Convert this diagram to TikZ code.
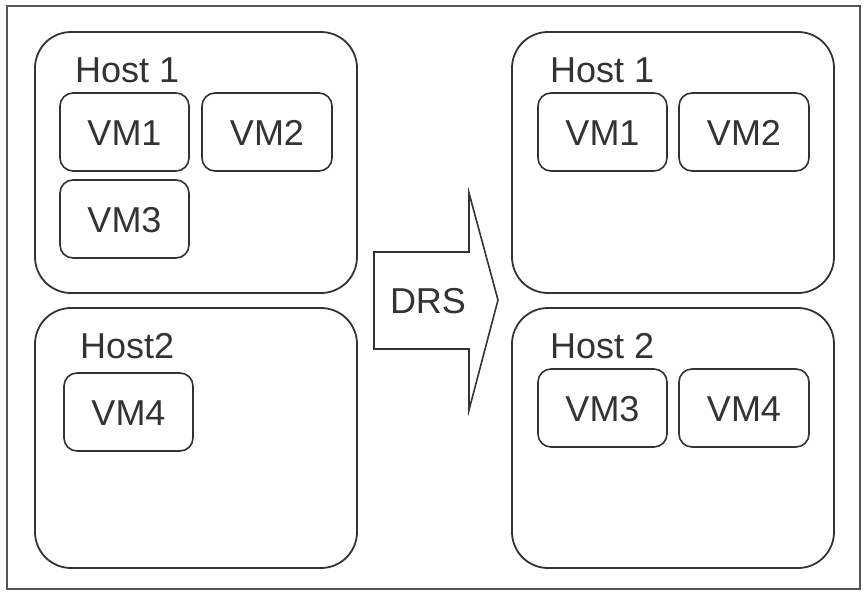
\documentclass[tikz,border=0pt]{standalone}
\usepackage{fontspec}
\setmainfont{Liberation Sans}
\definecolor{ink}{HTML}{333333}
\definecolor{framec}{HTML}{555555}
\tikzset{
  hostbox/.style={draw=ink, line width=1.8pt, rounded corners=36pt, inner sep=0pt},
  vmbox/.style={draw=ink, line width=1.6pt, rounded corners=13pt, inner sep=0pt,
     text=ink, font=\fontsize{36}{40}\selectfont, text height=26pt, text depth=0pt},
  title/.style={anchor=base west, inner sep=0pt, text=ink, font=\fontsize{36}{40}\selectfont},
}
\begin{document}
\begin{tikzpicture}[x=1pt,y=-1pt]
\useasboundingbox (0,0) rectangle (867,592);
\fill[white] (0,0) rectangle (867,592);
\draw[framec, line width=1.5pt] (7,6) rectangle (860,589);
% left hosts
\node[hostbox, minimum width=322pt, minimum height=261pt] (lh1) at (196,162.5) {};
\node[hostbox, minimum width=322pt, minimum height=260pt] (lh2) at (196,438) {};
\node[title] (lh1t) at (75,82) {Host 1};
\node[title] (lh2t) at (80,358) {Host2};
\node[vmbox, minimum width=129pt, minimum height=78pt] (lvm1) at (124.5,132) {VM1};
\node[vmbox, minimum width=130pt, minimum height=78pt] (lvm2) at (267,132) {VM2};
\node[vmbox, minimum width=129pt, minimum height=78pt] (lvm3) at (124.5,219) {VM3};
\node[vmbox, minimum width=129pt, minimum height=78pt] (lvm4) at (128.5,412) {VM4};
% arrow
\draw[ink, line width=1.6pt, line join=miter] (374,252) -- (469,252) -- (469,193) -- (498,300) -- (469,410) -- (469,349) -- (374,349) -- cycle;
\node[inner sep=0pt, text=ink, font=\fontsize{36}{40}\selectfont, text height=26pt, text depth=0pt] (drs) at (428,300) {DRS};
% right hosts
\node[hostbox, minimum width=322pt, minimum height=261pt] (rh1) at (673,162.5) {};
\node[hostbox, minimum width=322pt, minimum height=260pt] (rh2) at (673,438) {};
\node[title] (rh1t) at (550,82) {Host 1};
\node[title] (rh2t) at (550,358) {Host 2};
\node[vmbox, minimum width=129pt, minimum height=78pt] (rvm1) at (602.5,132) {VM1};
\node[vmbox, minimum width=130pt, minimum height=78pt] (rvm2) at (744,132) {VM2};
\node[vmbox, minimum width=129pt, minimum height=78pt] (rvm3) at (602.5,408) {VM3};
\node[vmbox, minimum width=130pt, minimum height=78pt] (rvm4) at (744,408) {VM4};
\end{tikzpicture}
\end{document}
